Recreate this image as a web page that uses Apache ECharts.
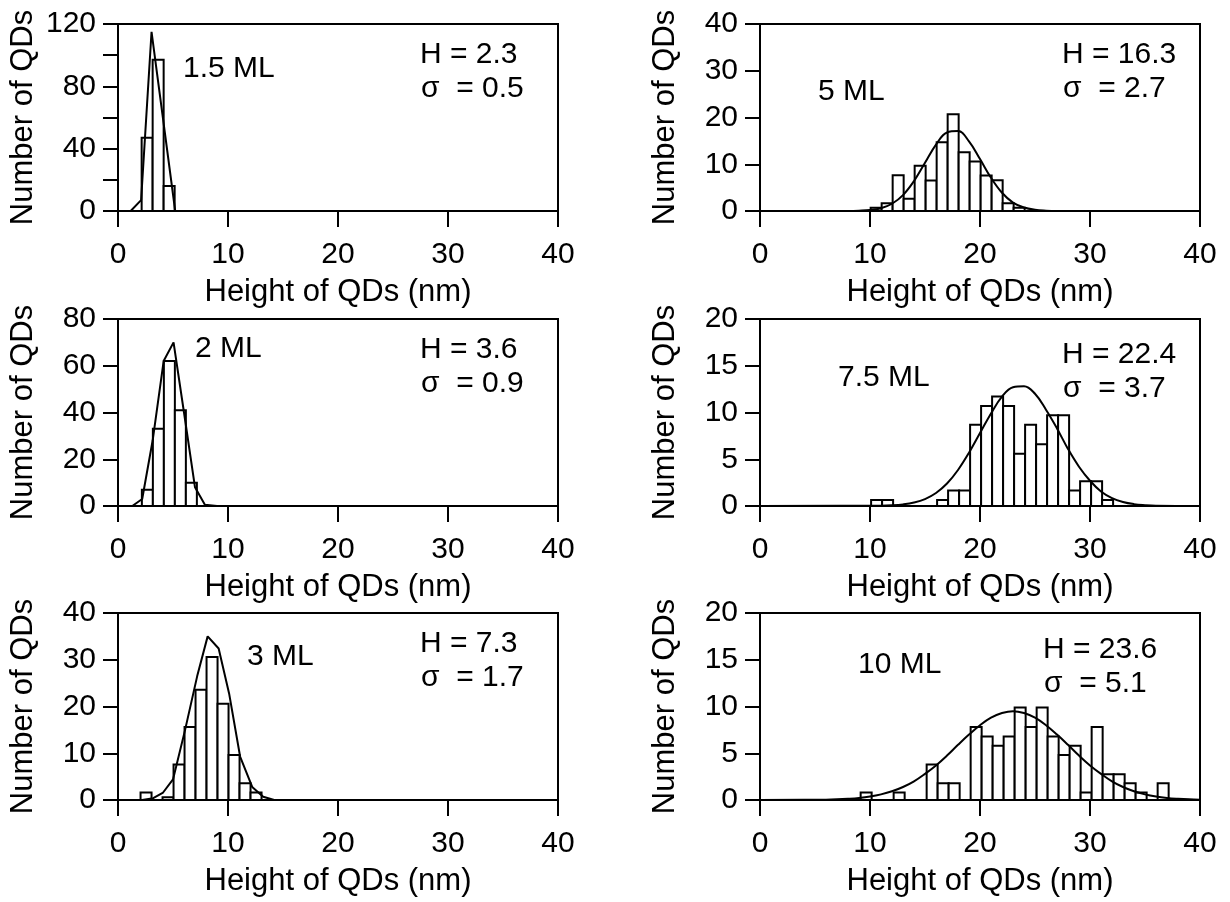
<!DOCTYPE html>
<html>
<head>
<meta charset="utf-8">
<script src="https://cdn.jsdelivr.net/npm/echarts@6/dist/echarts.min.js"></script>
<style>
  html, body { margin: 0; padding: 0; background: #fff; }
  #chart { width: 1230px; height: 902px; }
</style>
</head>
<body>
<div id="chart"></div>
<script>
// panel labels, fit results
const panelNames = ['1.5 ML', '2 ML', '3 ML', '5 ML', '7.5 ML', '10 ML']
const meanHeights = ['2.3', '3.6', '7.3', '16.3', '22.4', '23.6']
const sigmas = ['0.5', '0.9', '1.7', '2.7', '3.7', '5.1']

// axis ranges
const xTicks = [0, 10, 20, 30, 40]
const yMax = [120, 80, 40, 40, 20, 20]
const yStep = [40, 20, 10, 10, 5, 5]

// histograms: left edge of first 1 nm bin, then bar heights
const binStart = [2.15, 2.17, 2.05, 10.06, 10.1, 9.15]
const counts15 = [47, 97, 16]
const counts2 = [7, 33, 62, 41, 10]
const counts3 = [1.6, 0, 0.6, 7.6, 15.6, 23.6, 30.6, 20.6, 9.6, 3.6, 1.6]
const counts5 = [0.72, 1.64, 7.66, 2.64, 9.7, 6.5, 14.7, 20.7, 12.55, 10.6, 7.6, 6.6, 1.64, 0.72]
const counts75 = [0.65, 0.65, 0, 0, 0, 0, 0.65, 1.65, 1.65, 8.7, 10.7, 11.7, 10.7, 5.6, 8.7, 6.6, 9.7, 9.7, 1.65, 2.65, 2.65, 0.65]
const counts10 = [0.8, 0, 0, 0.8, 0, 0, 3.8, 1.8, 1.8, 0, 7.8, 6.8, 5.8, 6.8, 9.9, 7.8, 9.9, 6.8, 4.8, 5.8, 0.8, 7.8, 2.75, 2.75, 1.8, 0.8, 0, 1.8]

// gaussian fit curves, [x, y]
const fit15 = [[0, 0], [1.15, 0], [2.1, 7], [3.05, 115], [5.2, 0], [40, 0]]
const fit2 = [[0, 0], [1.3, 0], [2.2, 3], [3.15, 28], [4.15, 62], [5.05, 70], [6.0, 40], [7.0, 8], [7.9, 0.5], [9, 0], [40, 0]]
const fit3 = [[0, 0], [2.2, 0], [3.2, 0.4], [4.1, 1.6], [5.0, 4.4], [6.1, 15], [7.2, 26.5], [8.15, 35], [9.15, 32.4], [10.1, 22.8], [11.1, 9.3], [12.2, 2.8], [13.2, 0.7], [14.2, 0], [40, 0]]
const fit5 = [[0, 0], [8, 0.01], [9, 0.06], [10, 0.2], [11, 0.6], [12, 1.55], [13, 3.4], [14, 6.4], [15, 10.3], [16, 14.2], [17, 16.8], [18, 17.1], [19, 14.9], [20, 11.1], [21, 7.1], [22, 3.9], [23, 1.8], [24, 0.74], [25, 0.26], [26, 0.08], [27, 0.02], [40, 0]]
const fit75 = [[0, 0], [11, 0.03], [12, 0.07], [13, 0.17], [14, 0.37], [15, 0.74], [16, 1.39], [17, 2.4], [18, 3.85], [19, 5.7], [20, 7.8], [21, 9.9], [22, 11.7], [23, 12.7], [24, 12.8], [25, 12.0], [26, 10.3], [27, 8.3], [28, 6.1], [29, 4.2], [30, 2.7], [31, 1.56], [32, 0.85], [33, 0.43], [34, 0.2], [35, 0.09], [36, 0.03], [40, 0]]
const fit10 = [[0, 0], [6, 0.04], [7, 0.07], [8, 0.13], [9, 0.22], [10, 0.37], [11, 0.6], [12, 0.93], [13, 1.39], [14, 2.0], [15, 2.8], [16, 3.7], [17, 4.75], [18, 5.9], [19, 7.0], [20, 8.0], [21, 8.8], [22, 9.3], [23, 9.5], [24, 9.3], [25, 8.8], [26, 8.0], [27, 7.0], [28, 5.9], [29, 4.75], [30, 3.7], [31, 2.8], [32, 2.0], [33, 1.39], [34, 0.93], [35, 0.6], [36, 0.37], [37, 0.22], [38, 0.13], [39, 0.07], [40, 0.04]]

const allCounts = [counts15, counts2, counts3, counts5, counts75, counts10]
const allFits = [fit15, fit2, fit3, fit5, fit75, fit10]

const font = "'Liberation Sans', Arial, Helvetica, sans-serif"
const black = '#000'

// layout of the 6 panels (left column then right column)
const gridLeft = [118, 118, 118, 760, 760, 760]
const gridTop = [24, 319, 613, 24, 319, 613]
const nameX = [183, 195, 247, 818, 838, 858]
const nameY = [70, 350, 658, 93, 379, 666]
const statX = [420, 420, 420, 1062, 1062, 1043]
const statY = [56, 351, 645, 56, 356, 651]

function renderBar (params, api) {
  const h = api.value(2)
  if (!h) return null
  const p0 = api.coord([api.value(0), h])
  const p1 = api.coord([api.value(1), 0])
  return {
    type: 'rect',
    shape: { x: p0[0], y: p0[1], width: p1[0] - p0[0], height: p1[1] - p0[1] },
    style: { fill: '#fff', stroke: black, lineWidth: 2 }
  }
}

const grids = []
const xAxes = []
const yAxes = []
const series = []
const texts = []

for (let i = 0; i < 6; i++) {
  grids.push({
    left: gridLeft[i],
    top: gridTop[i],
    width: 440,
    height: 187,
    show: true,
    borderColor: black,
    borderWidth: 2,
    backgroundColor: 'transparent',
    outerBoundsMode: 'none'
  })

  xAxes.push({
    gridIndex: i,
    type: 'value',
    min: xTicks[0],
    max: xTicks[xTicks.length - 1],
    interval: 10,
    name: 'Height of QDs (nm)',
    nameLocation: 'middle',
    nameGap: 66,
    nameTextStyle: { color: black, fontSize: 31, fontFamily: font },
    axisLine: { show: true, onZero: false, lineStyle: { color: black, width: 2 } },
    axisTick: { show: true, length: 16, lineStyle: { color: black, width: 2 } },
    axisLabel: { color: black, fontSize: 30, fontFamily: font, margin: 29 },
    splitLine: { show: false }
  })

  yAxes.push({
    gridIndex: i,
    type: 'value',
    min: 0,
    max: yMax[i],
    interval: yStep[i],
    name: 'Number of QDs',
    nameLocation: 'middle',
    nameGap: 79,
    nameTextStyle: { color: black, fontSize: 31, fontFamily: font },
    axisLine: { show: true, onZero: false, lineStyle: { color: black, width: 2 } },
    axisTick: { show: true, length: 15, lineStyle: { color: black, width: 2 } },
    minorTick: { show: i === 0, splitNumber: 2, length: 15, lineStyle: { color: black, width: 2 } },
    axisLabel: { color: black, fontSize: 30, fontFamily: font, margin: 22 },
    splitLine: { show: false }
  })

  const bars = allCounts[i].map((c, k) => [binStart[i] + k, binStart[i] + k + 1, c])
  series.push({
    type: 'custom',
    xAxisIndex: i,
    yAxisIndex: i,
    renderItem: renderBar,
    data: bars,
    z: 2
  })

  series.push({
    type: 'line',
    xAxisIndex: i,
    yAxisIndex: i,
    data: allFits[i],
    symbol: 'none',
    smooth: i >= 3 ? 0.4 : false,
    lineStyle: { color: black, width: 2 },
    z: 3
  })

  texts.push({
    type: 'text',
    left: nameX[i],
    top: nameY[i] - 16,
    style: { text: panelNames[i], font: '30px ' + font, fill: black }
  })
  texts.push({
    type: 'text',
    left: statX[i],
    top: statY[i] - 16,
    style: { text: 'H = ' + meanHeights[i], font: '30px ' + font, fill: black }
  })
  texts.push({
    type: 'text',
    left: statX[i] + 1,
    top: statY[i] + 18,
    style: { text: '\u03c3  = ' + sigmas[i], font: '30px ' + font, fill: black }
  })
}

const chart = echarts.init(document.getElementById('chart'))
chart.setOption({
  backgroundColor: '#fff',
  animation: false,
  grid: grids,
  xAxis: xAxes,
  yAxis: yAxes,
  series: series,
  graphic: texts
})
</script>
</body>
</html>
